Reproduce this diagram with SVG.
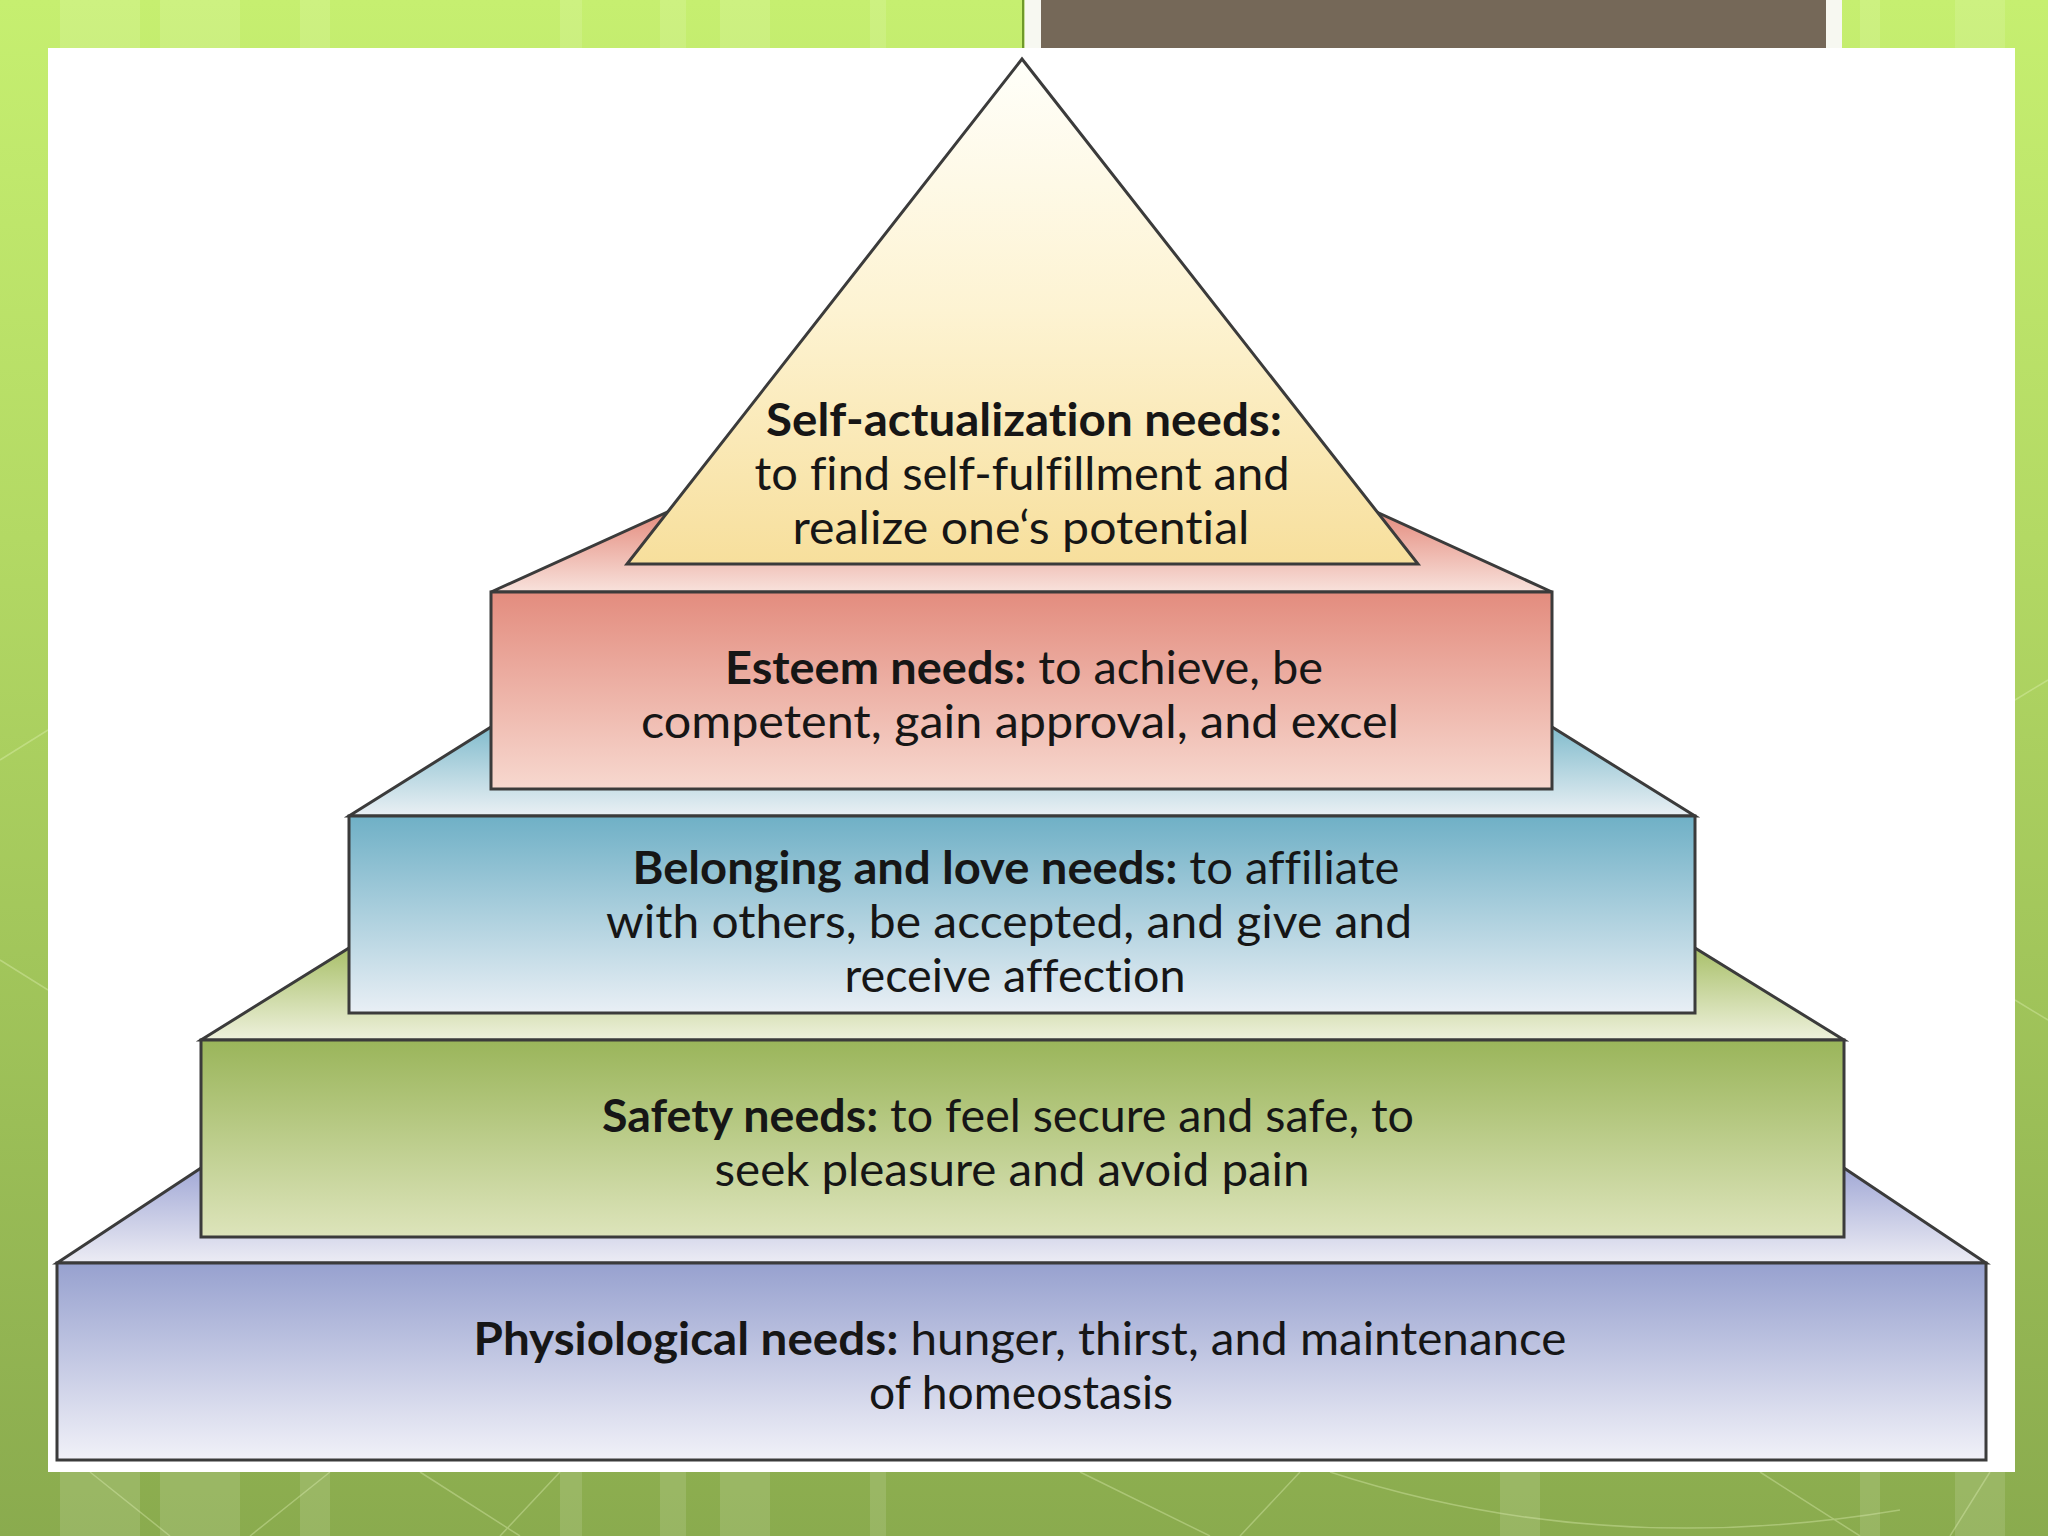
<svg xmlns="http://www.w3.org/2000/svg" width="2048" height="1536" viewBox="0 0 2048 1536">
  <defs>
    <linearGradient id="bg" x1="0" y1="0" x2="0" y2="1">
      <stop offset="0" stop-color="#c6ef70"/>
      <stop offset="0.35" stop-color="#b3d964"/>
      <stop offset="1" stop-color="#8aab4e"/>
    </linearGradient>
    <linearGradient id="triG" x1="0" y1="0" x2="0" y2="1">
      <stop offset="0" stop-color="#fffffa"/>
      <stop offset="0.5" stop-color="#fdf3d2"/>
      <stop offset="1" stop-color="#f7df9c"/>
    </linearGradient>
    <linearGradient id="redTop" x1="0" y1="0" x2="0" y2="1">
      <stop offset="0" stop-color="#e48a7c"/>
      <stop offset="1" stop-color="#f8e2dc"/>
    </linearGradient>
    <linearGradient id="redFront" x1="0" y1="0" x2="0" y2="1">
      <stop offset="0" stop-color="#e38c7e"/>
      <stop offset="1" stop-color="#f7d8cf"/>
    </linearGradient>
    <linearGradient id="blueTop" x1="0" y1="0" x2="0" y2="1">
      <stop offset="0" stop-color="#82bccd"/>
      <stop offset="1" stop-color="#eaf0f4"/>
    </linearGradient>
    <linearGradient id="blueFront" x1="0" y1="0" x2="0" y2="1">
      <stop offset="0" stop-color="#6fb0c6"/>
      <stop offset="1" stop-color="#e9eff5"/>
    </linearGradient>
    <linearGradient id="greenTop" x1="0" y1="0" x2="0" y2="1">
      <stop offset="0" stop-color="#a9c06a"/>
      <stop offset="1" stop-color="#eef1dc"/>
    </linearGradient>
    <linearGradient id="greenFront" x1="0" y1="0" x2="0" y2="1">
      <stop offset="0" stop-color="#9ab55a"/>
      <stop offset="1" stop-color="#dde4bb"/>
    </linearGradient>
    <linearGradient id="purpTop" x1="0" y1="0" x2="0" y2="1">
      <stop offset="0" stop-color="#a2a9d6"/>
      <stop offset="1" stop-color="#ececf4"/>
    </linearGradient>
    <linearGradient id="purpFront" x1="0" y1="0" x2="0" y2="1">
      <stop offset="0" stop-color="#97a1cf"/>
      <stop offset="1" stop-color="#f1f1f8"/>
    </linearGradient>
  </defs>
  <style>
    .edge { stroke: #3b3b3b; stroke-width: 3; stroke-linejoin: miter; }
    .lbl { font-family: Lato, "Liberation Sans", sans-serif; font-size: 46px; fill: #161616; text-anchor: middle; font-variant-ligatures: none; }
    .b { font-weight: bold; }
    .stripe { fill: #ffffff; opacity: 0.12; }
    .deco { stroke: #e9f5c0; stroke-width: 1.5; fill: none; opacity: 0.35; }
  </style>

  <g id="background">
    <rect x="0" y="0" width="2048" height="1536" fill="url(#bg)"/>
    <rect class="stripe" x="60" y="0" width="80" height="1536"/>
    <rect class="stripe" x="160" y="0" width="80" height="1536"/>
    <rect class="stripe" x="300" y="0" width="30" height="1536"/>
    <rect class="stripe" x="560" y="0" width="22" height="1536"/>
    <rect class="stripe" x="660" y="0" width="26" height="1536"/>
    <rect class="stripe" x="720" y="0" width="50" height="1536"/>
    <rect class="stripe" x="870" y="0" width="16" height="1536"/>
    <rect class="stripe" x="1500" y="0" width="40" height="1536"/>
    <rect class="stripe" x="1860" y="0" width="20" height="1536"/>
    <rect class="stripe" x="1955" y="0" width="50" height="1536"/>
    <path class="deco" d="M90 1472 L170 1536 M330 1472 L250 1536 M420 1472 L520 1536 M560 1472 L500 1536 M1080 1472 L1210 1536 M1300 1472 L1240 1536 M1330 1472 Q1600 1560 1900 1510 M1760 1472 L1860 1536 M1990 1472 L1950 1536"/>
    <path class="deco" d="M0 760 L48 730 M0 960 L48 990 M2015 700 L2048 680 M2015 1000 L2048 1020"/>
    <rect x="1022" y="0" width="2.5" height="48" fill="#6f9a2a"/>
    <rect x="1024.5" y="0" width="16.5" height="48" fill="#f7f8f1"/>
    <rect x="1041" y="0" width="785" height="48" fill="#756858"/>
    <rect x="1826" y="0" width="16" height="48" fill="#f7f8f1"/>
  </g>

  <rect id="panel" x="48" y="48" width="1967" height="1424" fill="#ffffff"/>

  <g id="physiological">
    <polygon class="edge" points="57,1263 1986,1263 1844,1168 201,1168" fill="url(#purpTop)"/>
    <rect class="edge" x="57" y="1263" width="1929" height="197" fill="url(#purpFront)"/>
    <text class="lbl" x="1020" y="1355" textLength="1093" lengthAdjust="spacingAndGlyphs"><tspan class="b">Physiological needs:</tspan> hunger, thirst, and maintenance</text>
    <text class="lbl" x="1021" y="1409" textLength="304" lengthAdjust="spacingAndGlyphs">of homeostasis</text>
  </g>

  <g id="safety">
    <polygon class="edge" points="201,1040 1844,1040 1695,948 349,948" fill="url(#greenTop)"/>
    <rect class="edge" x="201" y="1040" width="1643" height="197" fill="url(#greenFront)"/>
    <text class="lbl" x="1008" y="1132" textLength="812" lengthAdjust="spacingAndGlyphs"><tspan class="b">Safety needs:</tspan> to feel secure and safe, to</text>
    <text class="lbl" x="1012" y="1186" textLength="595" lengthAdjust="spacingAndGlyphs">seek pleasure and avoid pain</text>
  </g>

  <g id="belonging">
    <polygon class="edge" points="349,816 1695,816 1552,727 491,727" fill="url(#blueTop)"/>
    <rect class="edge" x="349" y="816" width="1346" height="197" fill="url(#blueFront)"/>
    <text class="lbl" x="1016" y="884" textLength="767" lengthAdjust="spacingAndGlyphs"><tspan class="b">Belonging and love needs:</tspan> to affiliate</text>
    <text class="lbl" x="1009" y="938" textLength="806" lengthAdjust="spacingAndGlyphs">with others, be accepted, and give and</text>
    <text class="lbl" x="1015" y="992" textLength="341" lengthAdjust="spacingAndGlyphs">receive affection</text>
  </g>

  <g id="esteem">
    <polygon class="edge" points="491,592 1552,592 1372,510 672,510" fill="url(#redTop)"/>
    <rect class="edge" x="491" y="592" width="1061" height="197" fill="url(#redFront)"/>
    <text class="lbl" x="1024" y="684" textLength="598" lengthAdjust="spacingAndGlyphs"><tspan class="b">Esteem needs:</tspan> to achieve, be</text>
    <text class="lbl" x="1020" y="738" textLength="758" lengthAdjust="spacingAndGlyphs">competent, gain approval, and excel</text>
  </g>

  <g id="self-actualization">
    <polygon class="edge" points="1022,59 1418,564 627,564" fill="url(#triG)" stroke-width="2.5"/>
    <text class="lbl b" x="1024" y="436" textLength="516" lengthAdjust="spacingAndGlyphs">Self-actualization needs:</text>
    <text class="lbl" x="1022" y="490" textLength="535" lengthAdjust="spacingAndGlyphs">to find self-fulfillment and</text>
    <text class="lbl" x="1021" y="544" textLength="457" lengthAdjust="spacingAndGlyphs">realize one‘s potential</text>
  </g>

  <g id="connectors"/>
</svg>
